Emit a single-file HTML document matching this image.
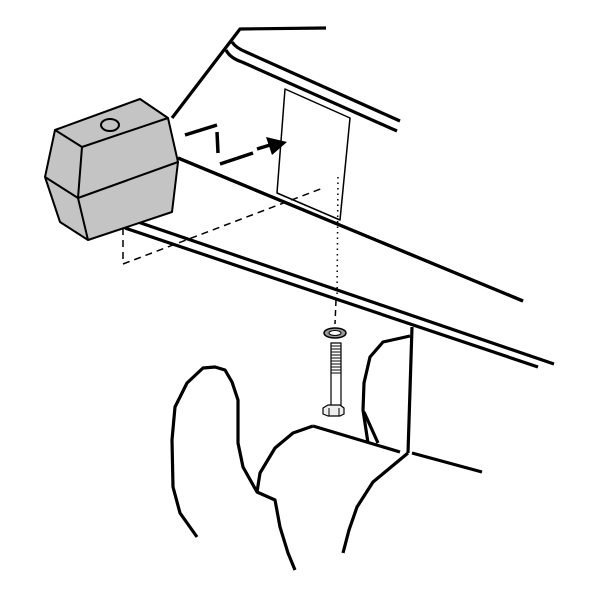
<!DOCTYPE html><html><head><style>body{margin:0;background:#fff}svg{display:block}</style></head><body>
<svg width="600" height="600" viewBox="0 0 600 600" fill="none" stroke="#000" stroke-linejoin="round">
<g stroke-width="3.2">
<polyline points="326,28 240,29 172,118"/>
<path d="M226,50 Q230,58 242,62 L397,131"/>
<path d="M232,42 Q236,48 246,52 L400,121"/>
<line x1="178" y1="158" x2="523" y2="301"/>
<line x1="135" y1="221" x2="554" y2="364"/>
<line x1="125" y1="228" x2="538" y2="367"/>
<line x1="412" y1="327" x2="408" y2="453"/>
<line x1="412" y1="453" x2="482" y2="472"/>
<line x1="313" y1="426" x2="400" y2="452"/>
<polyline points="408,453 373,482 357,507 349,530 343,553"/>
<polyline points="410,336 383,342 370,357 364,383 363,410 368,443"/>
<line x1="364" y1="412" x2="378" y2="443"/>
<polyline points="197,537 180,513 173,487 172,440 175,407 187,383 203,368 215,367 225,370 232,382 238,400 238,443 243,467 257,492 275,500 280,527 288,553 295,570"/>
<polyline points="257,492 260,473 275,448 293,433 313,426"/>
</g>
<polygon points="140,99 168,118 178,162 172,212 88,240 60,222 45,177 55,130" fill="#c4c4c4" stroke-width="2"/>
<g stroke-width="2">
<polyline points="55,130 82,147 168,118"/>
<line x1="82" y1="147" x2="78" y2="198"/>
<polyline points="45,177 78,198 178,162"/>
<line x1="78" y1="198" x2="88" y2="240"/>
<ellipse cx="110" cy="125" rx="9" ry="6"/>
</g>
<polygon points="285,89 350,118 340,220 277,193" stroke-width="1.5" fill="#fff"/>
<line x1="178" y1="158" x2="523" y2="301" stroke-width="3.2"/>
<polyline points="123,228 123,264 323,188" stroke-width="1.5" stroke-dasharray="7,5"/>
<line x1="338" y1="177" x2="337" y2="300" stroke-width="1.5" stroke-dasharray="1.5,4"/>
<line x1="336" y1="300" x2="335" y2="324" stroke-width="1.5" stroke-dasharray="6,4"/>
<g stroke-width="3.5">
<line x1="185" y1="135" x2="217" y2="125"/>
<line x1="217" y1="132" x2="218" y2="153"/>
<line x1="220" y1="164" x2="253" y2="153"/>
<line x1="257" y1="149" x2="270" y2="145"/>
</g>
<polygon points="287,142 266,137 272,155" fill="#000" stroke="none"/>
<ellipse cx="335" cy="333" rx="11" ry="5" fill="#999" stroke-width="1.5"/>
<ellipse cx="335" cy="333" rx="6" ry="2.5" fill="#fff" stroke-width="1"/>
<rect x="331" y="343" width="10" height="64" fill="#fff" stroke-width="1.2"/>
<g stroke-width="1">
<line x1="331" y1="346" x2="341" y2="346"/><line x1="331" y1="349" x2="341" y2="349"/><line x1="331" y1="352" x2="341" y2="352"/><line x1="331" y1="355" x2="341" y2="355"/><line x1="331" y1="358" x2="341" y2="358"/><line x1="331" y1="361" x2="341" y2="361"/><line x1="331" y1="364" x2="341" y2="364"/><line x1="331" y1="367" x2="341" y2="367"/><line x1="331" y1="370" x2="341" y2="370"/><line x1="331" y1="373" x2="341" y2="373"/>
</g>
<polygon points="323,408 328,405 340,405 344,408 344,414 340,416 328,416 323,414" fill="#eee" stroke-width="1.2"/>
<line x1="329" y1="408" x2="329" y2="416" stroke-width="1"/><line x1="339" y1="408" x2="339" y2="416" stroke-width="1"/>
</svg>
</body></html>
